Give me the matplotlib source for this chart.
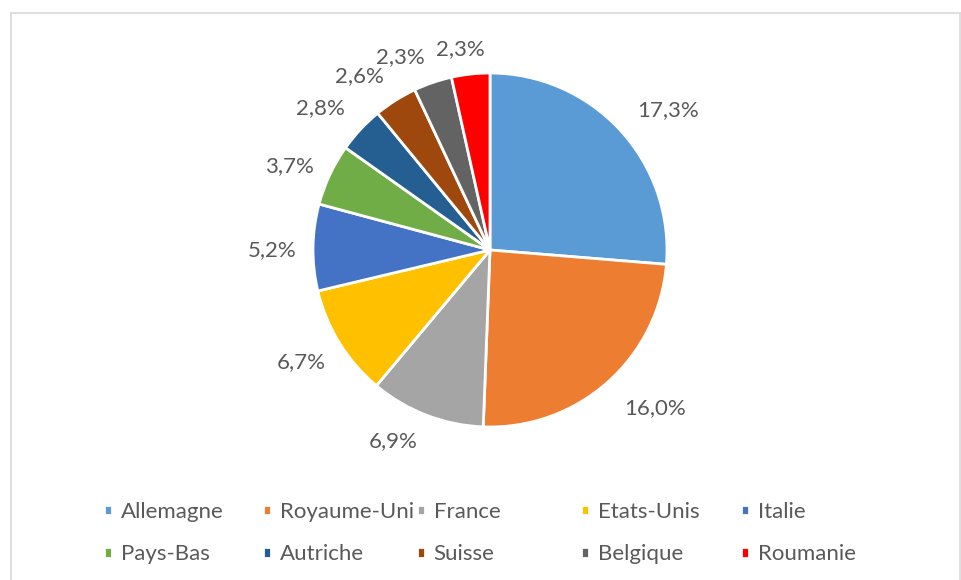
import numpy as np
import matplotlib.pyplot as plt
from matplotlib.lines import Line2D

pays = ["Allemagne", "Royaume-Uni", "France", "Etats-Unis", "Italie",
        "Pays-Bas", "Autriche", "Suisse", "Belgique", "Roumanie"]
parts = [17.3, 16.0, 6.9, 6.7, 5.2, 3.7, 2.8, 2.6, 2.3, 2.3]
couleurs = ["#5B9BD5", "#ED7D31", "#A5A5A5", "#FFC000", "#4472C4",
            "#70AD47", "#255E91", "#9E480E", "#636363", "#FF0000"]

# placement des etiquettes (distance en rayons, decalage angulaire en degres)
dist_etiq = [1.28, 1.29, 1.21, 1.24, 1.23, 1.23, 1.25, 1.23, 1.20, 1.15]
decal_etiq = [-4.5, 4.7, -5.9, -1.1, 0.8, 2.4, 2.9, 4.7, 6.1, 2.2]

plt.rcParams['font.family'] = ['Lato', 'DejaVu Sans']
gris = "#595959"
taille = 16

W, H = 961, 580
fig = plt.figure(figsize=(W / 100, H / 100), dpi=100)

# cadre gris clair autour du graphique
for xs, ys in [([11, 960], [13, 13]), ([11, 11], [13, H]), ([960, 960], [13, H])]:
    fig.add_artist(Line2D([x / W for x in xs], [1 - y / H for y in ys],
                          color="#d9d9d9", lw=1.2, transform=fig.transFigure))

# camembert : centre (490, 250), rayon ~177 px
cx, cy, r = 490, 250, 177
demi = 1.3 * r
ax = fig.add_axes([(cx - demi) / W, 1 - (cy + demi) / H, 2 * demi / W, 2 * demi / H])
wedges, textes = ax.pie(parts, colors=couleurs, startangle=90, counterclock=False,
                        labels=[f"{v:.1f}".replace('.', ',') + '%' for v in parts],
                        labeldistance=1.23,
                        wedgeprops=dict(edgecolor="white", linewidth=2),
                        textprops=dict(color=gris, fontsize=taille))
for w, t, d, da in zip(wedges, textes, dist_etiq, decal_etiq):
    a = np.deg2rad((w.theta1 + w.theta2) / 2 + da)
    t.set_position((d * np.cos(a), d * np.sin(a)))
    t.set_horizontalalignment('center')
    t.set_verticalalignment('center')
ax.set_xlim(-1.3, 1.3)
ax.set_ylim(-1.3, 1.3)
ax.set_aspect('equal')
ax.axis('off')

# legende : 5 colonnes de largeur fixe, 2 lignes
xcols = [104, 263, 417, 581, 741]
for i, x0 in enumerate(xcols):
    idx = [i, i + 5]
    fig.legend([wedges[j] for j in idx], [pays[j] for j in idx],
               loc='upper left', bbox_to_anchor=(x0 / W, 1 - 502 / H),
               frameon=False, fontsize=taille, labelcolor=gris,
               handlelength=0.35, handleheight=0.35, handletextpad=0.4,
               labelspacing=1.0, borderpad=0, borderaxespad=0)

fig.savefig("out.png", dpi=100, facecolor="white")
